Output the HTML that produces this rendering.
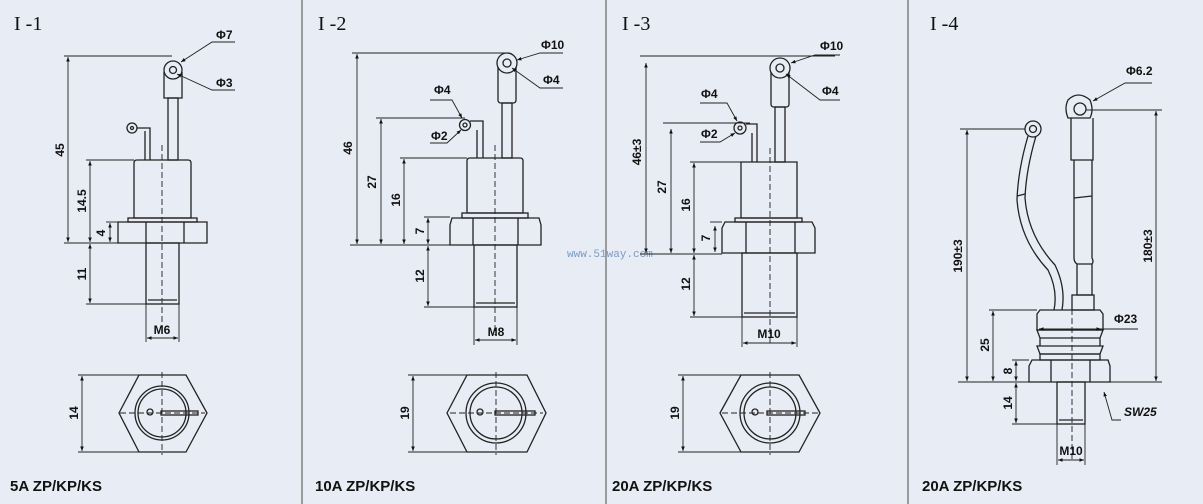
<!DOCTYPE html>
<html><head><meta charset="utf-8"><style>
html,body{margin:0;padding:0;background:#e8ecf4;}
svg{display:block}
text{font-family:"Liberation Sans",sans-serif;font-weight:bold;fill:#111}
.t{font-family:"Liberation Serif",serif;font-weight:normal;font-size:20px}
.d{font-size:12px}
.b{font-size:15px}
</style></head><body>
<svg width="1203" height="504" viewBox="0 0 1203 504" xmlns="http://www.w3.org/2000/svg">
<defs>
<marker id="a" viewBox="0 0 10 10" refX="10" refY="5" markerWidth="5" markerHeight="5" orient="auto-start-reverse"><path d="M0,1 L10,5 L0,9z" fill="#111"/></marker>
</defs>
<rect width="1203" height="504" fill="#e8ecf4"/>
<g stroke="#666" stroke-width="1.2"><line x1="302" y1="0" x2="302" y2="504"/><line x1="606" y1="0" x2="606" y2="504"/><line x1="908" y1="0" x2="908" y2="504"/></g>

<!-- Panel 1 -->
<text class="t" x="14" y="30">I -1</text>
<g fill="none" stroke="#222" stroke-width="1.3">
<circle cx="173" cy="70" r="9"/><circle cx="173" cy="70" r="3.5"/>
<path d="M164,72 L164,98 L182,98 L182,72"/>
<rect x="168" y="98" width="10" height="62"/>
<circle cx="132" cy="128" r="5"/><circle cx="132" cy="128" r="1.5"/>
<path d="M137,128 L150,128 L150,160 M145,131 L145,160"/>
<path d="M134,163 Q134,160 137,160 L188,160 Q191,160 191,163 L191,218 L134,218 Z"/>
<rect x="128" y="218" width="69" height="4"/>
<path d="M118,222 L207,222 L207,243 L118,243 Z M146,222 L146,243 M184,222 L184,243"/>
<rect x="146" y="243" width="33" height="61"/>
<line x1="148" y1="300" x2="177" y2="300"/>
<polygon points="119,413 139,375 186,375 207,413 186,452 139,452"/>
<circle cx="162" cy="413" r="27"/><circle cx="162" cy="413" r="24"/>
<circle cx="150" cy="412" r="3"/>
<rect x="161" y="411" width="37" height="4"/>
</g>
<g stroke="#222" stroke-width="0.9" stroke-dasharray="6,3" fill="none"><line x1="162" y1="145" x2="162" y2="330"/><line x1="120" y1="413" x2="205" y2="413"/><line x1="162" y1="372" x2="162" y2="455"/></g>
<g stroke="#222" stroke-width="0.9" fill="none">
<line x1="64" y1="56" x2="172" y2="56"/><line x1="64" y1="243" x2="118" y2="243"/>
<line x1="86" y1="160" x2="134" y2="160"/><line x1="106" y1="222" x2="118" y2="222"/>
<line x1="86" y1="304" x2="146" y2="304"/>
<line x1="68" y1="57" x2="68" y2="242" marker-start="url(#a)" marker-end="url(#a)"/>
<line x1="90" y1="161" x2="90" y2="242" marker-start="url(#a)" marker-end="url(#a)"/>
<line x1="110" y1="223" x2="110" y2="242" marker-start="url(#a)" marker-end="url(#a)"/>
<line x1="90" y1="244" x2="90" y2="303" marker-start="url(#a)" marker-end="url(#a)"/>
<line x1="146" y1="304" x2="146" y2="342"/><line x1="179" y1="304" x2="179" y2="342"/>
<line x1="147" y1="338" x2="178" y2="338" marker-start="url(#a)" marker-end="url(#a)"/>
<path d="M235,42 L212,42 L181,62" marker-end="url(#a)"/>
<path d="M235,90 L212,90 L177,74" marker-end="url(#a)"/>
<line x1="78" y1="375" x2="139" y2="375"/><line x1="78" y1="452" x2="139" y2="452"/>
<line x1="82" y1="376" x2="82" y2="451" marker-start="url(#a)" marker-end="url(#a)"/>
</g>
<text class="d" x="216" y="39">Φ7</text><text class="d" x="216" y="87">Φ3</text>
<text class="d" transform="translate(64,150) rotate(-90)" text-anchor="middle">45</text>
<text class="d" transform="translate(86,201) rotate(-90)" text-anchor="middle">14.5</text>
<text class="d" transform="translate(105,233) rotate(-90)" text-anchor="middle">4</text>
<text class="d" transform="translate(86,274) rotate(-90)" text-anchor="middle">11</text>
<text class="d" x="162" y="334" text-anchor="middle">M6</text>
<text class="d" transform="translate(78,413) rotate(-90)" text-anchor="middle">14</text>
<text class="b" x="10" y="491">5A ZP/KP/KS</text>

<!-- Panel 2 -->
<text class="t" x="318" y="30">I -2</text>
<g fill="none" stroke="#222" stroke-width="1.3">
<circle cx="507" cy="63" r="10"/><circle cx="507" cy="63" r="4"/>
<path d="M498,67 L498,100 Q498,103 501,103 L513,103 Q516,103 516,100 L516,67"/>
<rect x="502" y="103" width="10" height="55"/>
<circle cx="465" cy="125" r="5.5"/><circle cx="465" cy="125" r="2"/>
<path d="M470,121 L483,121 L483,158 M477,130 L477,158"/>
<path d="M467,161 Q467,158 470,158 L520,158 Q523,158 523,161 L523,213 L467,213 Z"/>
<rect x="462" y="213" width="66" height="5"/>
<path d="M452,218 L539,218 L541,225 L541,245 L450,245 L450,225 Z M473,218 L473,245 M518,218 L518,245"/>
<rect x="474" y="245" width="43" height="62"/>
<line x1="476" y1="303" x2="515" y2="303"/>
<polygon points="447,413 467,375 527,375 546,413 527,452 467,452"/>
<circle cx="496" cy="413" r="30"/><circle cx="496" cy="413" r="26"/>
<circle cx="480" cy="412" r="3"/>
<rect x="495" y="411" width="40" height="4"/>
</g>
<g stroke="#222" stroke-width="0.9" stroke-dasharray="6,3" fill="none"><line x1="495" y1="145" x2="495" y2="335"/><line x1="450" y1="413" x2="543" y2="413"/><line x1="496" y1="372" x2="496" y2="455"/></g>
<g stroke="#222" stroke-width="0.9" fill="none">
<line x1="352" y1="53" x2="507" y2="53"/><line x1="350" y1="245" x2="450" y2="245"/>
<line x1="376" y1="118" x2="465" y2="118"/><line x1="400" y1="158" x2="467" y2="158"/>
<line x1="424" y1="217" x2="450" y2="217"/><line x1="424" y1="307" x2="474" y2="307"/>
<line x1="357" y1="54" x2="357" y2="244" marker-start="url(#a)" marker-end="url(#a)"/>
<line x1="381" y1="119" x2="381" y2="244" marker-start="url(#a)" marker-end="url(#a)"/>
<line x1="404" y1="159" x2="404" y2="244" marker-start="url(#a)" marker-end="url(#a)"/>
<line x1="428" y1="218" x2="428" y2="244" marker-start="url(#a)" marker-end="url(#a)"/>
<line x1="428" y1="246" x2="428" y2="306" marker-start="url(#a)" marker-end="url(#a)"/>
<line x1="474" y1="307" x2="474" y2="345"/><line x1="517" y1="307" x2="517" y2="345"/>
<line x1="475" y1="340" x2="516" y2="340" marker-start="url(#a)" marker-end="url(#a)"/>
<path d="M563,53 L540,53 L517,60" marker-end="url(#a)"/>
<path d="M563,88 L540,88 L512,68" marker-end="url(#a)"/>
<path d="M430,100 L452,100 L462,118" marker-end="url(#a)"/>
<path d="M430,143 L447,143 L461,130" marker-end="url(#a)"/>
<line x1="408" y1="375" x2="467" y2="375"/><line x1="408" y1="452" x2="467" y2="452"/>
<line x1="413" y1="376" x2="413" y2="451" marker-start="url(#a)" marker-end="url(#a)"/>
</g>
<text class="d" x="541" y="49">Φ10</text><text class="d" x="543" y="84">Φ4</text>
<text class="d" x="434" y="94">Φ4</text><text class="d" x="431" y="140">Φ2</text>
<text class="d" transform="translate(352,148) rotate(-90)" text-anchor="middle">46</text>
<text class="d" transform="translate(376,182) rotate(-90)" text-anchor="middle">27</text>
<text class="d" transform="translate(400,200) rotate(-90)" text-anchor="middle">16</text>
<text class="d" transform="translate(424,231) rotate(-90)" text-anchor="middle">7</text>
<text class="d" transform="translate(424,276) rotate(-90)" text-anchor="middle">12</text>
<text class="d" x="496" y="336" text-anchor="middle">M8</text>
<text class="d" transform="translate(409,413) rotate(-90)" text-anchor="middle">19</text>
<text class="b" x="315" y="491">10A ZP/KP/KS</text>
<text x="567" y="257" style="font-family:'Liberation Mono',monospace;font-weight:normal;font-size:11px;fill:#7a9cc4">www.51way.com</text>

<!-- Panel 3 -->
<text class="t" x="622" y="30">I -3</text>
<g fill="none" stroke="#222" stroke-width="1.3">
<circle cx="780" cy="68" r="10"/><circle cx="780" cy="68" r="4"/>
<path d="M771,72 L771,104 Q771,107 774,107 L786,107 Q789,107 789,104 L789,72"/>
<rect x="775" y="107" width="10" height="55"/>
<circle cx="740" cy="128" r="6"/><circle cx="740" cy="128" r="2"/>
<path d="M746,124 L757,124 L757,162 M752,133 L752,162"/>
<path d="M741,162 L797,162 L797,218 L741,218 Z"/>
<rect x="735" y="218" width="67" height="4"/>
<path d="M725,222 L812,222 L815,228 L815,253 L722,253 L722,228 Z M746,222 L746,253 M795,222 L795,253"/>
<rect x="742" y="253" width="55" height="64"/>
<line x1="744" y1="313" x2="795" y2="313"/>
<polygon points="720,413 741,375 799,375 820,413 799,452 741,452"/>
<circle cx="770" cy="413" r="30"/><circle cx="770" cy="413" r="26"/>
<circle cx="755" cy="412" r="3"/>
<rect x="767" y="411" width="38" height="4"/>
</g>
<g stroke="#222" stroke-width="0.9" stroke-dasharray="6,3" fill="none"><line x1="770" y1="148" x2="770" y2="345"/><line x1="722" y1="413" x2="818" y2="413"/><line x1="770" y1="372" x2="770" y2="455"/></g>
<g stroke="#222" stroke-width="0.9" fill="none">
<line x1="640" y1="56" x2="835" y2="56"/><line x1="640" y1="254" x2="722" y2="254"/>
<line x1="663" y1="123" x2="750" y2="123"/><line x1="690" y1="162" x2="741" y2="162"/>
<line x1="710" y1="222" x2="722" y2="222"/><line x1="690" y1="317" x2="742" y2="317"/>
<line x1="646" y1="63" x2="646" y2="253" marker-start="url(#a)" marker-end="url(#a)"/>
<line x1="671" y1="129" x2="671" y2="253" marker-start="url(#a)" marker-end="url(#a)"/>
<line x1="694" y1="163" x2="694" y2="253" marker-start="url(#a)" marker-end="url(#a)"/>
<line x1="715" y1="226" x2="715" y2="252" marker-start="url(#a)" marker-end="url(#a)"/>
<line x1="694" y1="255" x2="694" y2="316" marker-start="url(#a)" marker-end="url(#a)"/>
<line x1="742" y1="317" x2="742" y2="347"/><line x1="797" y1="317" x2="797" y2="347"/>
<line x1="743" y1="343" x2="796" y2="343" marker-start="url(#a)" marker-end="url(#a)"/>
<path d="M840,55 L815,55 L791,63" marker-end="url(#a)"/>
<path d="M840,100 L820,100 L786,74" marker-end="url(#a)"/>
<path d="M700,103 L727,103 L737,121" marker-end="url(#a)"/>
<path d="M700,142 L720,142 L735,133" marker-end="url(#a)"/>
<line x1="678" y1="375" x2="741" y2="375"/><line x1="678" y1="452" x2="741" y2="452"/>
<line x1="683" y1="376" x2="683" y2="451" marker-start="url(#a)" marker-end="url(#a)"/>
</g>
<text class="d" x="820" y="50">Φ10</text><text class="d" x="822" y="95">Φ4</text>
<text class="d" x="701" y="98">Φ4</text><text class="d" x="701" y="138">Φ2</text>
<text class="d" transform="translate(641,152) rotate(-90)" text-anchor="middle">46±3</text>
<text class="d" transform="translate(666,187) rotate(-90)" text-anchor="middle">27</text>
<text class="d" transform="translate(690,205) rotate(-90)" text-anchor="middle">16</text>
<text class="d" transform="translate(710,238) rotate(-90)" text-anchor="middle">7</text>
<text class="d" transform="translate(690,284) rotate(-90)" text-anchor="middle">12</text>
<text class="d" x="769" y="338" text-anchor="middle">M10</text>
<text class="d" transform="translate(679,413) rotate(-90)" text-anchor="middle">19</text>
<text class="b" x="612" y="491">20A ZP/KP/KS</text>

<!-- Panel 4 -->
<text class="t" x="930" y="30">I -4</text>
<g fill="none" stroke="#222" stroke-width="1.3">
<path d="M1068,118 Q1064,108 1068,100 Q1078,90 1090,100 Q1094,110 1090,118 Z"/>
<circle cx="1080" cy="109" r="6"/>
<path d="M1071,118 L1071,160 L1093,160 L1093,118"/>
<path d="M1074,160 L1074,258 Q1074,262 1077,264 L1077,295 L1092,295 L1092,264 Q1094,262 1092,258 L1092,160"/>
<path d="M1074,198 L1092,196 M1077,264 L1092,264"/>
<rect x="1072" y="295" width="22" height="15"/>
<circle cx="1033" cy="129" r="8"/><circle cx="1033" cy="129" r="3.5"/>
<path d="M1028,136 Q1018,170 1017,200 Q1020,240 1048,270 Q1058,290 1054,310"/>
<path d="M1036,136 Q1026,170 1025,198 Q1028,236 1055,265 Q1066,288 1062,310"/>
<path d="M1017,196 L1025,194"/>
<path d="M1040,310 L1100,310 L1103,314 L1103,330 L1037,330 L1037,314 Z"/>
<path d="M1037,330 L1103,330 L1100,338 L1040,338 Z M1040,338 L1100,338 L1100,346 L1040,346 Z M1037,346 L1103,346 L1100,354 L1040,354 Z"/>
<path d="M1040,354 L1100,354 L1100,360 L1040,360 Z"/>
<path d="M1032,360 L1108,360 L1110,366 L1110,382 L1029,382 L1029,366 Z M1051,360 L1051,382 M1090,360 L1090,382"/>
<rect x="1057" y="382" width="28" height="42"/>
<line x1="1059" y1="420" x2="1083" y2="420"/>
</g>
<g stroke="#222" stroke-width="0.9" stroke-dasharray="6,3" fill="none"><line x1="1072" y1="300" x2="1072" y2="460"/></g>
<g stroke="#222" stroke-width="0.9" fill="none">
<line x1="960" y1="129" x2="1025" y2="129"/><line x1="1086" y1="110" x2="1162" y2="110"/>
<line x1="958" y1="382" x2="1162" y2="382"/>
<line x1="989" y1="310" x2="1037" y2="310"/><line x1="1012" y1="360" x2="1029" y2="360"/>
<line x1="1012" y1="424" x2="1057" y2="424"/>
<line x1="967" y1="130" x2="967" y2="381" marker-start="url(#a)" marker-end="url(#a)"/>
<line x1="1156" y1="111" x2="1156" y2="381" marker-start="url(#a)" marker-end="url(#a)"/>
<line x1="993" y1="311" x2="993" y2="381" marker-start="url(#a)" marker-end="url(#a)"/>
<line x1="1016" y1="361" x2="1016" y2="381" marker-start="url(#a)" marker-end="url(#a)"/>
<line x1="1016" y1="383" x2="1016" y2="423" marker-start="url(#a)" marker-end="url(#a)"/>
<line x1="1057" y1="424" x2="1057" y2="465"/><line x1="1085" y1="424" x2="1085" y2="465"/>
<line x1="1058" y1="460" x2="1084" y2="460" marker-start="url(#a)" marker-end="url(#a)"/>
<line x1="1039" y1="329" x2="1101" y2="329" marker-start="url(#a)" marker-end="url(#a)"/>
<line x1="1101" y1="329" x2="1138" y2="329"/>
<path d="M1152,83 L1125,83 L1093,101" marker-end="url(#a)"/>
<path d="M1121,420 L1112,420 L1104,392" marker-end="url(#a)"/>
</g>
<text class="d" x="1126" y="75">Φ6.2</text><text class="d" x="1114" y="323">Φ23</text>
<text class="d" x="1124" y="416" style="font-style:italic">SW25</text>
<text class="d" transform="translate(962,256) rotate(-90)" text-anchor="middle">190±3</text>
<text class="d" transform="translate(1152,246) rotate(-90)" text-anchor="middle">180±3</text>
<text class="d" transform="translate(989,345) rotate(-90)" text-anchor="middle">25</text>
<text class="d" transform="translate(1012,371) rotate(-90)" text-anchor="middle">8</text>
<text class="d" transform="translate(1012,403) rotate(-90)" text-anchor="middle">14</text>
<text class="d" x="1071" y="455" text-anchor="middle">M10</text>
<text class="b" x="922" y="491">20A ZP/KP/KS</text>
</svg>
</body></html>
